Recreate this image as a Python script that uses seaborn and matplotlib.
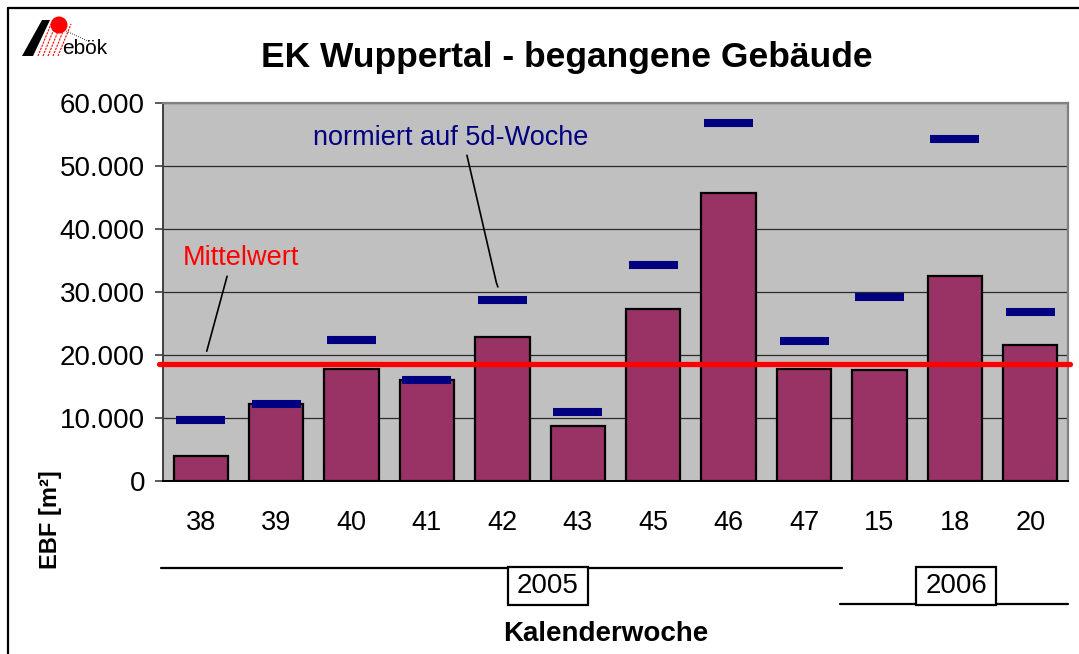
import numpy as np
import pandas as pd
import matplotlib
matplotlib.use('Agg')
import matplotlib.pyplot as plt
import matplotlib.patches as mpatches
import seaborn as sns

# Data
weeks = ['38', '39', '40', '41', '42', '43', '45', '46', '47', '15', '18', '20']
ebf = [4000, 12200, 17800, 16100, 22800, 8700, 27300, 45700, 17800, 17600, 32600, 21600]
ebf_5d = [9700, 12300, 22400, 16100, 28700, 11000, 34300, 56900, 22300, 29200, 54300, 26900]
mittelwert = 18600
years = ['2005', '2006']
year_weeks = [9, 3]   # number of weeks per year

df = pd.DataFrame({'Woche': weeks, 'EBF': ebf, 'EBF_5d': ebf_5d})

sns.set_style('white')
plt.rcParams['font.family'] = ['Liberation Sans', 'DejaVu Sans']
plt.rcParams['text.color'] = 'black'
plt.rcParams['xtick.color'] = 'black'
plt.rcParams['ytick.color'] = 'black'
plt.rcParams['axes.labelcolor'] = 'black'

W, H = 1079, 654
fig = plt.figure(figsize=(W / 100, H / 100), dpi=100)
fig.patch.set_facecolor('white')

# plot area in pixels
L, R, T, B = 163, 1068, 103, 481
ax = fig.add_axes([L / W, 1 - B / H, (R - L) / W, (B - T) / H])
ax.set_facecolor('#C0C0C0')

# bars
sns.barplot(data=df, x='Woche', y='EBF', order=weeks, color='#993366', saturation=1,
            width=0.72, edgecolor='black', linewidth=1.6, ax=ax, zorder=3)

# normalised values as short dashes
xpos = np.arange(len(weeks))
ax.hlines(df['EBF_5d'], xpos - 0.325, xpos + 0.325, colors='#000080', linewidth=5.8, zorder=4)

# mean line
ax.axhline(mittelwert, xmin=-0.004, xmax=1.002, color='#FF0000', linewidth=3.8, zorder=5, clip_on=False)

# axes
ax.set_xlim(-0.5, len(weeks) - 0.5)
ax.set_ylim(0, 60000)
ax.set_yticks(np.arange(0, 60001, 10000))
ax.set_yticklabels(['0' if v == 0 else f'{v // 1000}.000' for v in range(0, 60001, 10000)],
                   fontsize=20)
ax.yaxis.grid(True, color='#2a2a2a', linewidth=0.9, zorder=0)
ax.set_axisbelow(True)
ax.tick_params(axis='y', direction='out', length=6, width=1.2, color='#404040', pad=7, left=True)
ax.set_xticks(xpos)
ax.set_xticklabels(weeks, fontsize=19.5)
ax.set_xticks(np.arange(-0.5, len(weeks)), minor=True)
ax.tick_params(axis='x', which='major', length=0, pad=21)
ax.tick_params(axis='x', which='minor', direction='out', length=8, width=1.2, color='#303030')
ax.set_xlabel('')
ax.set_ylabel('')
for side in ['top', 'right']:
    ax.spines[side].set_color('#808080')
    ax.spines[side].set_linewidth(1.6)
ax.spines['left'].set_color('#404040')
ax.spines['left'].set_linewidth(1.4)
ax.spines['bottom'].set_color('black')
ax.spines['bottom'].set_linewidth(1.4)

# annotations
ax.text(0.53, 35400, 'Mittelwert', color='#FF0000', fontsize=19.5, ha='center', va='center', zorder=6)
ax.plot([0.35, 0.08], [32500, 20600], color='black', linewidth=1.2, zorder=6)
ax.text(3.31, 54500, 'normiert auf 5d-Woche', color='#000080', fontsize=19.5, ha='center', va='center', zorder=6)
ax.plot([3.53, 3.92, 3.94], [51700, 31500, 30800], color='black', linewidth=1.2, zorder=6)

# year brackets below the axis
trans = ax.get_xaxis_transform()
start = -0.5
line_y = [-0.229, -0.325]
box_x = [4.6, 10.02]
for yr, n, ly, bx in zip(years, year_weeks, line_y, box_x):
    ax.plot([start - 0.02, start + n], [ly, ly], color='black', linewidth=1.6,
            transform=trans, clip_on=False)
    ax.add_patch(mpatches.Rectangle((bx - 0.53, -0.328), 1.06, 0.1, transform=trans,
                                    fc='white', ec='black', lw=1.6, clip_on=False, zorder=6))
    ax.text(bx, -0.278, yr, fontsize=20, ha='center', va='center', transform=trans, zorder=7)
    start += n

# overlay in pixel coordinates for frame and logo
ov = fig.add_axes([0, 0, 1, 1], zorder=-1)
ov.set_xlim(0, W)
ov.set_ylim(H, 0)
ov.axis('off')
ov.plot([8, 8], [8, H + 5], color='black', linewidth=1.6)
ov.plot([8, W + 5], [8, 8], color='black', linewidth=1.6)

fig.text(567 / W, 1 - 58 / H, 'EK Wuppertal - begangene Gebäude', fontsize=25.5, fontweight='bold',
         ha='center', va='center')
fig.text(51 / W, 1 - 520 / H, 'EBF [m²]', fontsize=17, fontweight='bold', rotation=90,
         ha='center', va='center')
fig.text(606 / W, 1 - 634 / H, 'Kalenderwoche', fontsize=20, fontweight='bold',
         ha='center', va='center')

# logo
ov.add_patch(mpatches.Polygon([[22, 56], [33, 56], [50, 20], [42, 20]], closed=True,
                              fc='black', ec='none'))
ov.add_patch(mpatches.Circle((59, 25), 8.5, fc='#FF0000', ec='none'))
for k in range(5):
    ov.plot([38 + 5 * k, 51 + 5 * k], [56, 24], color='#FF0000', linewidth=0.8, linestyle=(0, (2, 1)))
ov.plot([66, 90], [31, 42], color='black', linewidth=0.6, linestyle=':')
ov.text(62, 48, 'ebök', fontsize=15, ha='left', va='center')

fig.savefig('out.png', dpi=100)
